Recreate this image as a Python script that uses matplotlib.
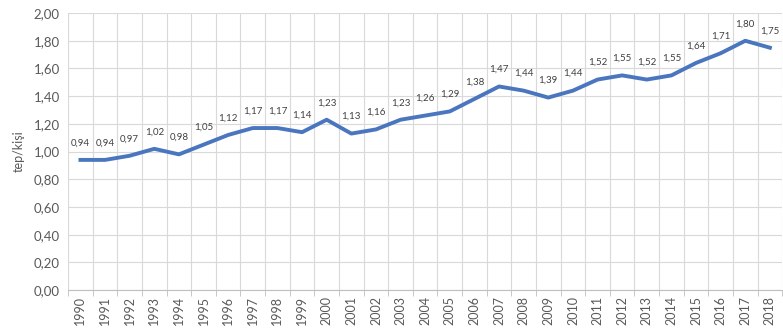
import matplotlib
matplotlib.use("Agg")
import matplotlib.pyplot as plt
from matplotlib.ticker import FixedLocator, FuncFormatter

years = [str(y) for y in range(1990, 2019)]
values = [0.94, 0.94, 0.97, 1.02, 0.98, 1.05, 1.12, 1.17, 1.17, 1.14, 1.23,
          1.13, 1.16, 1.23, 1.26, 1.29, 1.38, 1.47, 1.44, 1.39, 1.44, 1.52,
          1.55, 1.52, 1.55, 1.64, 1.71, 1.80, 1.75]
y_ticks = [0.0, 0.2, 0.4, 0.6, 0.8, 1.0, 1.2, 1.4, 1.6, 1.8, 2.0]

plt.rcParams['font.family'] = ['Lato', 'DejaVu Sans']

fig = plt.figure(figsize=(7.83, 3.35), dpi=100)
ax = fig.add_axes([0.087, 0.134, 0.912, 0.827])

x = list(range(len(years)))
ax.plot(x, values, color='#4A76BF', lw=2.8, solid_joinstyle='round', zorder=3)

for xi, v in zip(x, values):
    ax.annotate(f"{v:.2f}".replace('.', ','), (xi, v), xytext=(0, 9),
                textcoords='offset points', ha='center', va='bottom',
                fontsize=7, color='#404040')

ax.set_xlim(-0.5, len(years) - 0.5)
ax.set_ylim(0, 2.0)
ax.set_yticks(y_ticks)
ax.yaxis.set_major_formatter(FuncFormatter(lambda v, p: f"{v:.2f}".replace('.', ',')))
ax.set_xticks(x)
ax.set_xticklabels(years, rotation=90, fontsize=9, color='#595959')
ax.xaxis.set_minor_locator(FixedLocator([i - 0.5 for i in range(len(years) + 1)]))
ax.tick_params(axis='x', which='major', length=0, pad=4)
ax.tick_params(axis='x', which='minor', length=4, color='#BFBFBF')
ax.tick_params(axis='y', length=0, labelsize=9.5, labelcolor='#595959', pad=6)

ax.grid(True, axis='y', which='major', color='#D9D9D9', lw=0.8)
ax.grid(True, axis='x', which='minor', color='#D9D9D9', lw=0.8)
ax.set_axisbelow(True)
for s in ['top', 'right', 'left']:
    ax.spines[s].set_visible(False)
ax.spines['bottom'].set_color('#BFBFBF')

ax.set_ylabel('tep/kişi', fontsize=9, color='#595959', labelpad=6)

fig.savefig('out.png', dpi=100)
